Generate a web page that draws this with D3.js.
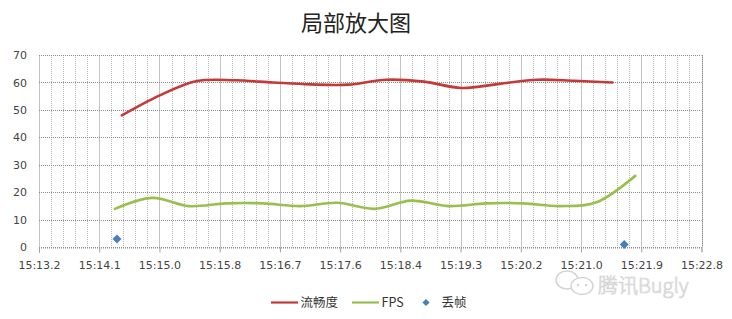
<!DOCTYPE html>
<html><head><meta charset="utf-8">
<script src="https://cdn.jsdelivr.net/npm/d3@7/dist/d3.min.js"></script>
<style>
html,body{margin:0;padding:0;background:#fff;}
svg{display:block;}
</style></head>
<body>
<svg id="chart" width="732" height="319"></svg>
<script>
// ---- data (time in seconds after 15:13) ----
const title = "局部放大图";
const seriesNames = ["流畅度", "FPS", "丢帧"];
const xTickLabels = ["15:13.2","15:14.1","15:15.0","15:15.8","15:16.7","15:17.6","15:18.4","15:19.3","15:20.2","15:21.0","15:21.9","15:22.8"];
const xAxisStart = 13.22;
const xTickStep = 0.8727;
const yTicks = [0,10,20,30,40,50,60,70];

const smoothTimes  = [14.42,14.97,15.51,16.06,16.61,17.15,17.70,18.25,18.80,19.34,19.89,20.44,20.98,21.53];
const smoothValues = [48,   55.3, 60.5, 60.8, 60,   59.3, 59.2, 61,   60.3, 58,   59.5, 61,   60.6, 60];

const fpsTimes  = [14.32,14.86,15.39,15.93,16.47,17.00,17.54,18.08,18.61,19.15,19.70,20.24,20.77,21.31,21.86];
const fpsValues = [14,   18,   15,   16,   16,   15,   16.2, 14,   17,   15,   16,   16,   15,   16.5, 26];

const dropTimes  = [14.35, 21.70];
const dropValues = [3, 1];

// ---- layout ----
const svg = d3.select("#chart");
const pL = 39, pR = 701.5, pT = 55, pB = 247.3;
const nTicks = xTickLabels.length;
const x = d3.scaleLinear().domain([xAxisStart, xAxisStart + (nTicks-1)*xTickStep]).range([pL, pR]);
const y = d3.scaleLinear().domain([0, 70]).range([pB, pT]);

const majorVals = d3.range(nTicks).map(i => xAxisStart + i*xTickStep);
const minorVals = d3.range((nTicks-1)*5 + 1).map(i => xAxisStart + i*xTickStep/5).filter((d,i)=> i%5 !== 0);

// watermark (drawn first, behind everything)
const wm = svg.append("g").attr("opacity", 0.9);
wm.append("ellipse").attr("cx", 567).attr("cy", 280).attr("rx", 11).attr("ry", 9)
  .attr("fill","#fff").attr("stroke","#d0d0d0").attr("stroke-width",1.5);
wm.append("ellipse").attr("cx", 582).attr("cy", 286).attr("rx", 11).attr("ry", 8.5)
  .attr("fill","#fff").attr("stroke","#d0d0d0").attr("stroke-width",1.5);
wm.append("circle").attr("cx",578).attr("cy",285).attr("r",1.2).attr("fill","#d0d0d0");
wm.append("circle").attr("cx",586).attr("cy",285).attr("r",1.2).attr("fill","#d0d0d0");
wm.append("text").attr("x", 598).attr("y", 293)
  .attr("font-family", "Noto Sans CJK SC").attr("font-size", 20).attr("font-weight", 300)
  .attr("fill", "#ededed").attr("stroke", "#d0d0d0").attr("stroke-width", 0.7)
  .text("腾讯Bugly");

// minor vertical gridlines
svg.append("g").selectAll("line").data(minorVals).join("line")
  .attr("x1", d => Math.round(x(d))+0.5).attr("x2", d => Math.round(x(d))+0.5)
  .attr("y1", pT).attr("y2", pB)
  .attr("stroke", "#b8b8b8").attr("stroke-width", 1).attr("stroke-dasharray", "1,1");

// major vertical gridlines
svg.append("g").selectAll("line").data(majorVals).join("line")
  .attr("x1", d => Math.round(x(d))+0.5).attr("x2", d => Math.round(x(d))+0.5)
  .attr("y1", pT).attr("y2", pB)
  .attr("stroke", "#c4c4c4").attr("stroke-width", 1);

// horizontal gridlines
svg.append("g").selectAll("line").data(yTicks).join("line")
  .attr("x1", pL).attr("x2", pR)
  .attr("y1", d => Math.round(y(d))+0.5).attr("y2", d => Math.round(y(d))+0.5)
  .attr("stroke", "#8c8c8c").attr("stroke-width", 1).attr("stroke-dasharray", "1,1");

// right border
svg.append("line").attr("x1", Math.round(pR)+0.5).attr("x2", Math.round(pR)+0.5)
  .attr("y1", pT).attr("y2", pB)
  .attr("stroke", "#8c8c8c").attr("stroke-dasharray", "1,1");

// x axis
const xAxis = d3.axisBottom(x).tickValues(majorVals)
  .tickFormat((d,i) => xTickLabels[i]).tickSize(5).tickPadding(9);
const gx = svg.append("g").attr("transform", `translate(0,${Math.round(pB)+0.5})`).call(xAxis);
gx.select(".domain").attr("stroke", "#8c8c8c").attr("stroke-dasharray", "1,1");
gx.selectAll(".tick line").attr("stroke", "#a0a0a0");
gx.selectAll("text").attr("font-family", "DejaVu Sans").attr("font-size", 11).attr("fill", "#444");

// y axis
const yAxis = d3.axisLeft(y).tickValues(yTicks).tickSize(0).tickPadding(12);
const gy = svg.append("g").attr("transform", `translate(${pL},0)`).call(yAxis);
gy.select(".domain").remove();
gy.selectAll("text").attr("font-family", "DejaVu Sans").attr("font-size", 11).attr("fill", "#444");

// lines
const line = d3.line().curve(d3.curveCardinal.tension(0));
const smoothPts = smoothTimes.map((t,i)=>[x(t), y(smoothValues[i])]);
const fpsPts = fpsTimes.map((t,i)=>[x(t), y(fpsValues[i])]);
const red = "#c43a38", green = "#99c04f", blue = "#4a7dc0";

svg.append("path").attr("d", line(smoothPts)).attr("fill","none")
  .attr("stroke", red).attr("stroke-width", 2.6).attr("stroke-linecap","round");
svg.append("path").attr("d", line(fpsPts)).attr("fill","none")
  .attr("stroke", green).attr("stroke-width", 2.6).attr("stroke-linecap","round");

const diamond = d3.symbol().type(d3.symbolSquare).size(40);
svg.append("g").selectAll("path").data(dropTimes).join("path")
  .attr("d", diamond)
  .attr("transform", (d,i) => `translate(${x(d)},${y(dropValues[i])}) rotate(45)`)
  .attr("fill", blue);

// title
svg.append("text").attr("x", 356).attr("y", 31).attr("text-anchor","middle")
  .attr("font-family", "Noto Sans CJK SC").attr("font-size", 22).attr("fill", "#222")
  .text(title);

// legend
const lg = svg.append("g").attr("font-family", "Noto Sans CJK SC").attr("font-size", 12.5).attr("fill", "#333");
const ly = 302.5;
lg.append("line").attr("x1", 271).attr("x2", 298).attr("y1", ly).attr("y2", ly).attr("stroke", red).attr("stroke-width", 2.2);
lg.append("text").attr("x", 300.5).attr("y", ly).attr("dy", "0.36em").text(seriesNames[0]);
lg.append("line").attr("x1", 352).attr("x2", 379).attr("y1", ly).attr("y2", ly).attr("stroke", green).attr("stroke-width", 2.2);
lg.append("text").attr("x", 381.5).attr("y", ly).attr("dy", "0.36em").text(seriesNames[1]);
lg.append("path").attr("d", d3.symbol().type(d3.symbolSquare).size(26)).attr("transform", `translate(426,${ly}) rotate(45)`).attr("fill", blue);
lg.append("text").attr("x", 441.5).attr("y", ly).attr("dy", "0.36em").text(seriesNames[2]);
</script>
</body></html>
